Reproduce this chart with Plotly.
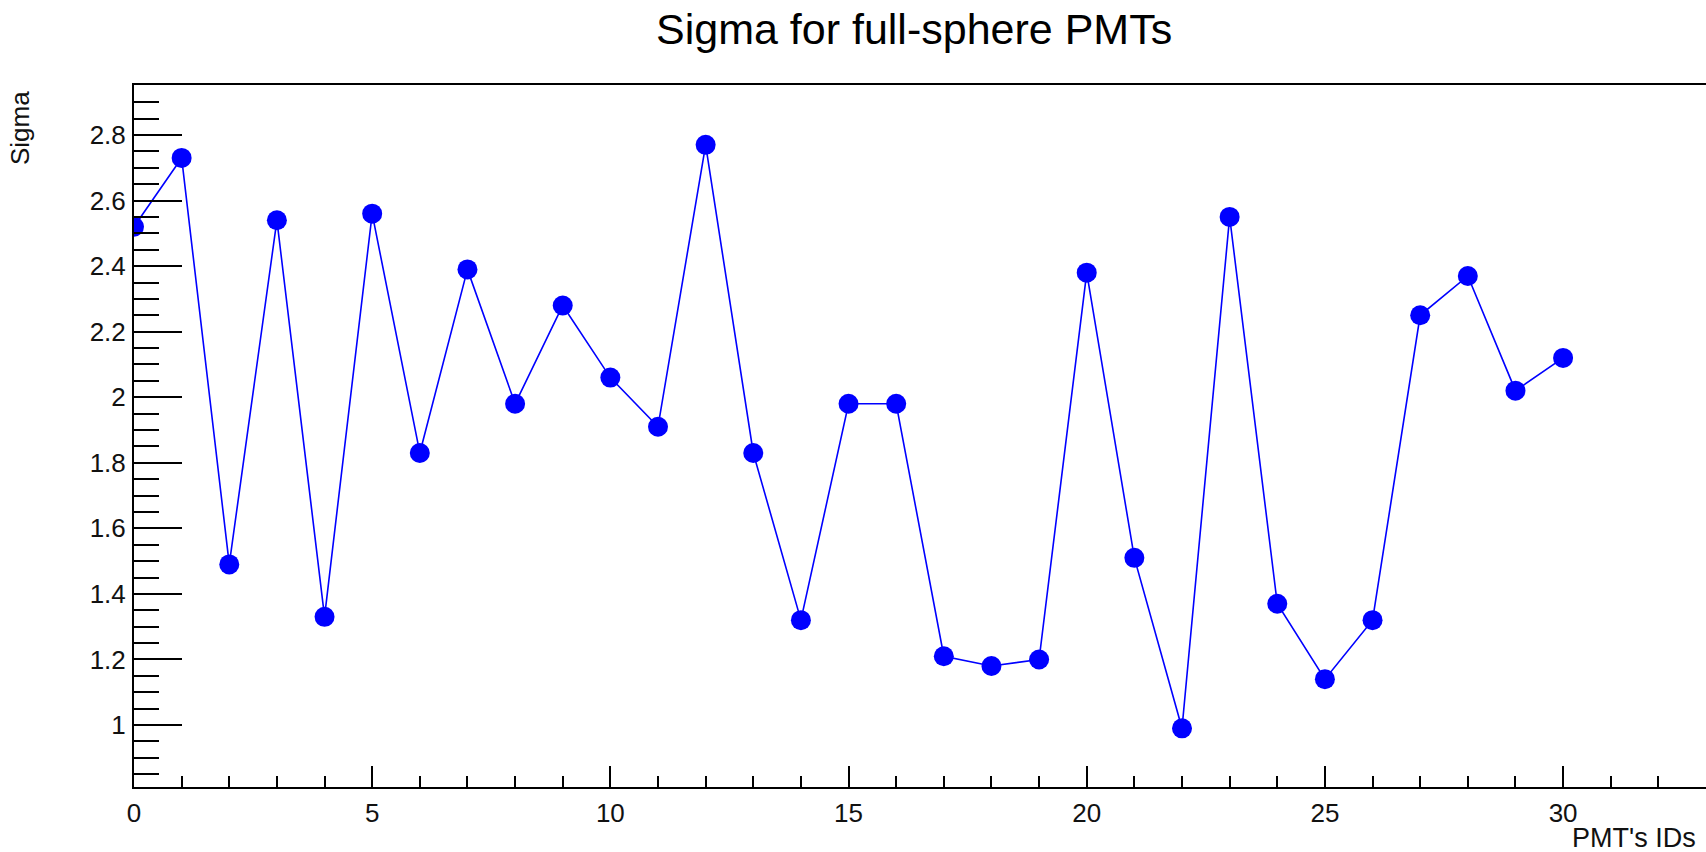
import plotly.graph_objects as go

# PMT identifiers and fitted sigma per PMT
pmt_ids = list(range(31))
sigma = [2.52, 2.73, 1.49, 2.54, 1.33, 2.56, 1.83, 2.39, 1.98, 2.28,
         2.06, 1.91, 2.77, 1.83, 1.32, 1.98, 1.98, 1.21, 1.18, 1.20,
         2.38, 1.51, 0.99, 2.55, 1.37, 1.14, 1.32, 2.25, 2.37, 2.02,
         2.12]

title_text = "Sigma for full-sphere PMTs"
x_title = "PMT's IDs"
y_title = "Sigma"

W, H = 1706, 852
L, T, R, B = 134, 85, 0, 65
plot_w = W - L - R
plot_h = H - T - B

FONT = "Liberation Sans, Arial, sans-serif"
BLUE = "#0000ff"


def px_x(px):
    return (px - L) / plot_w


def px_y(py):
    return (H - B - py) / plot_h


fig = go.Figure()
fig.add_trace(go.Scatter(
    x=pmt_ids, y=sigma, mode="lines+markers",
    line=dict(color=BLUE, width=1.6),
    marker=dict(color=BLUE, size=20, line=dict(width=0)),
    showlegend=False,
))

axis_common = dict(
    showgrid=False, zeroline=False,
    showline=True, linecolor="black", linewidth=2,
    ticks="inside", tickcolor="black", tickwidth=1.5,
    tickfont=dict(family=FONT, size=26, color="#111111"),
)

fig.update_xaxes(
    **axis_common,
    range=[0, 33.0], tick0=0, dtick=5, ticklen=21,
    mirror=True, ticklabelstandoff=2,
    minor=dict(dtick=1, tick0=0, ticks="inside", ticklen=11,
               tickcolor="black", tickwidth=1.5),
)
fig.update_yaxes(
    **axis_common,
    range=[0.811, 2.9525], tick0=0, dtick=0.2, ticklen=48,
    mirror=False, ticklabelstandoff=1,
    minor=dict(dtick=0.05, tick0=0, ticks="inside", ticklen=25,
               tickcolor="black", tickwidth=1.5),
)

fig.update_layout(
    width=W, height=H,
    margin=dict(l=L, r=R, t=T, b=B, autoexpand=False),
    plot_bgcolor="white", paper_bgcolor="white",
    annotations=[
        dict(text=title_text, xref="paper", yref="paper",
             x=px_x(914), y=px_y(29), xanchor="center", yanchor="middle",
             showarrow=False,
             font=dict(family=FONT, size=43, color="black")),
        dict(text=x_title, xref="paper", yref="paper",
             x=px_x(1698), y=px_y(838), xanchor="right", yanchor="middle",
             showarrow=False,
             font=dict(family=FONT, size=27, color="#111111")),
        dict(text=y_title, xref="paper", yref="paper",
             x=px_x(20), y=px_y(89), xanchor="center", yanchor="top",
             textangle=-90, showarrow=False,
             font=dict(family=FONT, size=26, color="#111111")),
    ],
)

fig.write_html("out.html")
